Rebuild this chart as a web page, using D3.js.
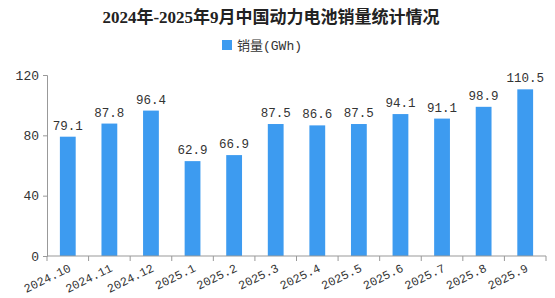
<!DOCTYPE html>
<html>
<head>
<meta charset="utf-8">
<script src="https://cdn.jsdelivr.net/npm/d3@7"></script>
<style>
body { margin: 0; background: #fff; }
text { font-family: "Liberation Mono", "Noto Sans CJK SC", monospace; }
</style>
</head>
<body>
<svg width="555" height="298"></svg>
<script>
var months = ["2024.10", "2024.11", "2024.12", "2025.1", "2025.2", "2025.3",
              "2025.4", "2025.5", "2025.6", "2025.7", "2025.8", "2025.9"];
var sales = [79.1, 87.8, 96.4, 62.9, 66.9, 87.5, 86.6, 87.5, 94.1, 91.1, 98.9, 110.5];
var yTicks = [0, 40, 80, 120];

var svg = d3.select("svg"),
    width = +svg.attr("width"),
    height = +svg.attr("height");

var margin = {top: 75, right: 9, bottom: 42, left: 47};
var barColor = "#3d9bf0";

var x = d3.scaleBand()
  .domain(months)
  .range([margin.left, width - margin.right])
  .paddingInner(0.62)
  .paddingOuter(0.31);

var y = d3.scaleLinear()
  .domain([0, 120])
  .range([height - margin.bottom, margin.top]);

// title
svg.append("text")
  .attr("x", 271)
  .attr("y", 23)
  .attr("text-anchor", "middle")
  .style("font-family", "'Liberation Serif', 'Noto Sans CJK SC', serif")
  .style("font-size", "17px")
  .style("font-weight", "bold")
  .style("fill", "#222")
  .text("2024年-2025年9月中国动力电池销量统计情况");

// legend
var legend = svg.append("g").attr("transform", "translate(222,40)");
legend.append("rect")
  .attr("width", 10).attr("height", 10)
  .attr("fill", barColor);
legend.append("text")
  .attr("x", 15).attr("y", 9.5)
  .style("font-size", "13px")
  .style("fill", "#333")
  .text("销量(GWh)");

// bars
svg.append("g")
  .selectAll("rect")
  .data(sales)
  .enter().append("rect")
  .attr("x", (d, i) => x(months[i]))
  .attr("y", d => y(d))
  .attr("width", x.bandwidth())
  .attr("height", d => y(0) - y(d))
  .attr("fill", barColor);

// value labels
svg.append("g")
  .selectAll("text")
  .data(sales)
  .enter().append("text")
  .attr("x", (d, i) => x(months[i]) + x.bandwidth() / 2)
  .attr("y", d => y(d) - 7)
  .attr("text-anchor", "middle")
  .style("font-size", "12.5px")
  .style("fill", "#333")
  .text(d => d.toFixed(1));

// y axis
var yAxis = svg.append("g")
  .attr("transform", `translate(${margin.left},0)`)
  .call(d3.axisLeft(y).tickValues(yTicks).tickSize(4).tickPadding(4));
yAxis.selectAll("text").style("font-size", "13px").style("fill", "#333");
yAxis.selectAll("path, line").attr("stroke", "#999");

// x axis with ticks at band edges
var edges = months.map(m => x(m) - x.step() * x.paddingInner() / 2).concat([width - margin.right]);
var xg = svg.append("g").attr("transform", `translate(0,${y(0)})`);
xg.append("line")
  .attr("x1", margin.left).attr("x2", width - margin.right)
  .attr("stroke", "#999");
xg.selectAll(".tick")
  .data(edges)
  .enter().append("line")
  .attr("x1", d => d).attr("x2", d => d)
  .attr("y1", 0).attr("y2", 5)
  .attr("stroke", "#999");
xg.selectAll(".lbl")
  .data(months)
  .enter().append("text")
  .attr("transform", d => `translate(${x(d) + x.bandwidth() / 2 + 2},${11}) rotate(-26)`)
  .attr("text-anchor", "end")
  .attr("dy", "0.35em")
  .style("font-size", "12px")
  .style("fill", "#333")
  .text(d => d);
</script>
</body>
</html>
